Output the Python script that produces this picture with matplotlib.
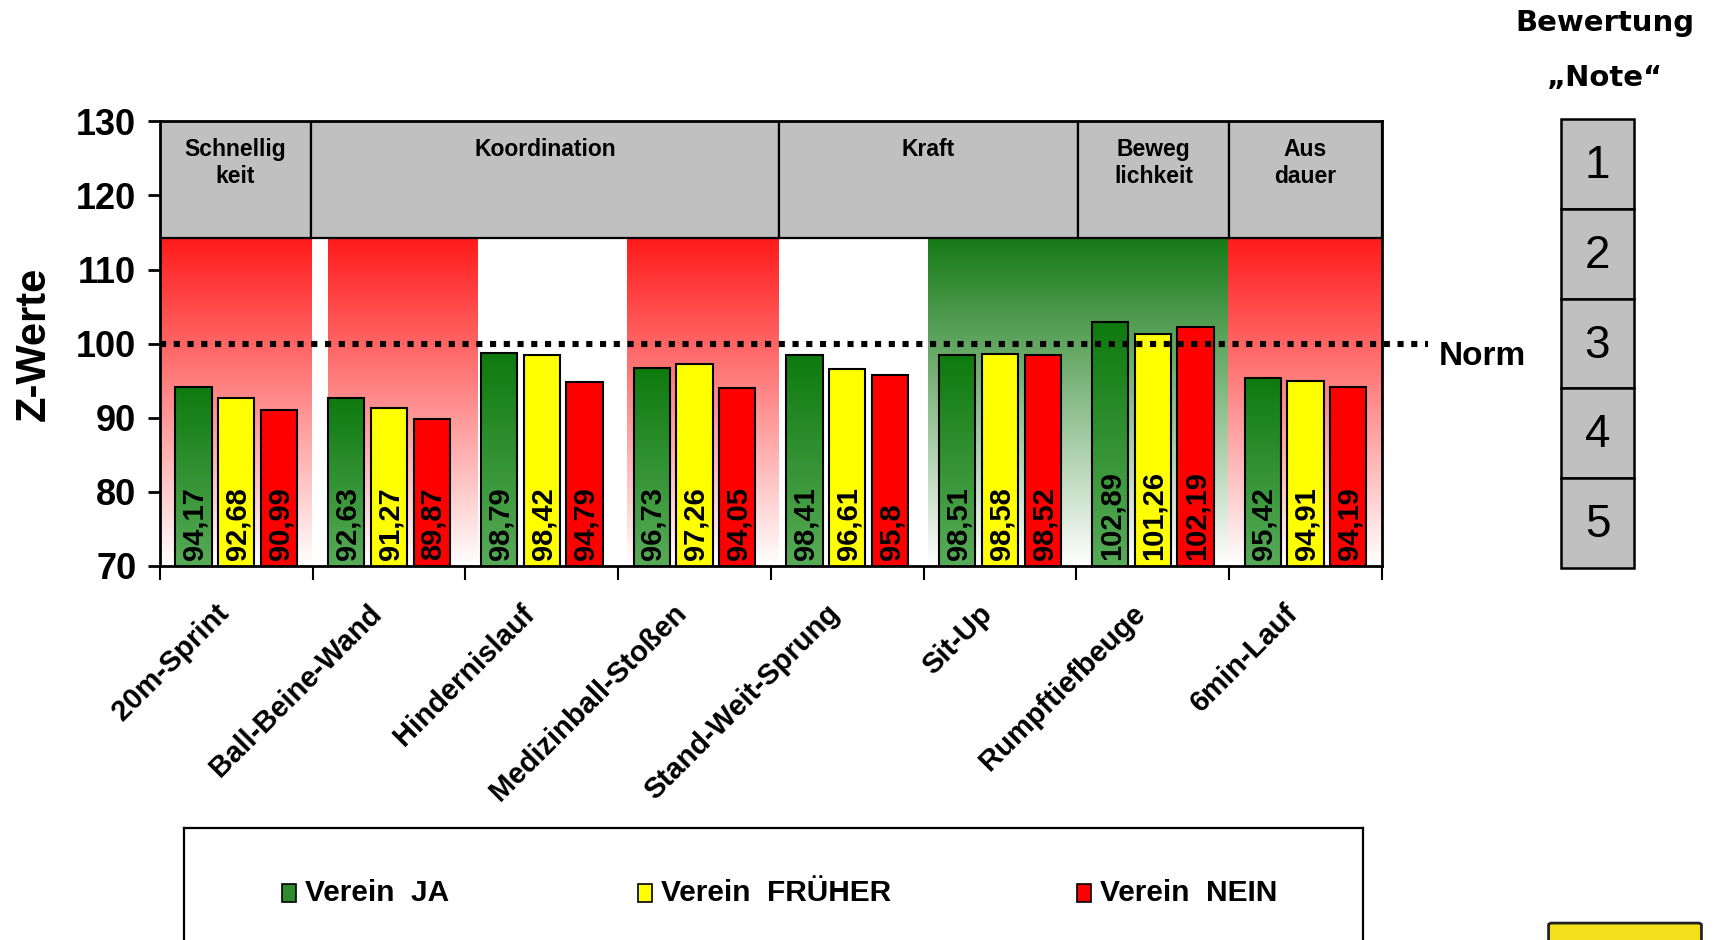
import numpy as np
import matplotlib
matplotlib.use("Agg")
import matplotlib.pyplot as plt
from matplotlib.patches import Rectangle, FancyBboxPatch
from matplotlib.colors import to_rgb
from matplotlib.transforms import ScaledTranslation

plt.rcParams.update({
    "font.family": ["Liberation Sans", "DejaVu Sans"],
    "font.weight": "bold",
})

# ── data ─────────────────────────────────────────────────────────
tests = ["20m-Sprint", "Ball-Beine-Wand", "Hindernislauf", "Medizinball-Stoßen",
         "Stand-Weit-Sprung", "Sit-Up", "Rumpftiefbeuge", "6min-Lauf"]
verein_ja = [94.17, 92.63, 98.79, 96.73, 98.41, 98.51, 102.89, 95.42]
verein_frueher = [92.68, 91.27, 98.42, 97.26, 96.61, 98.58, 101.26, 94.91]
verein_nein = [90.99, 89.87, 94.79, 94.05, 95.8, 98.52, 102.19, 94.19]
series_names = ["Verein  JA", "Verein  FRÜHER", "Verein  NEIN"]

# motor abilities: (label, first test index, last test index)
abilities = [("Schnellig\nkeit", 0, 0), ("Koordination", 1, 3), ("Kraft", 4, 5),
             ("Beweg\nlichkeit", 6, 6), ("Aus\ndauer", 7, 7)]
# background rating per test: r = red, w = white, g = green
band_rating = ["r", "r", "w", "r", "w", "g", "g", "r"]
norm_value = 100
grades = ["1", "2", "3", "4", "5"]

# ── figure ───────────────────────────────────────────────────────
fig = plt.figure(figsize=(17.16, 9.40), dpi=100)
ax = fig.add_axes([0.0932, 0.398, 0.7121, 0.4729])
ymin, ymax, head_y = 70, 130, 114.3
ax.set_xlim(-0.5, 7.5)
ax.set_ylim(ymin, ymax)

x = np.arange(len(tests))


def gradient(ax, x0, x1, y0, y1, top, bottom, z):
    # vertical colour ramp: `top` at y1, `bottom` at y0
    t = np.linspace(0, 1, 256)[:, None]
    c0, c1 = np.array(to_rgb(top)), np.array(to_rgb(bottom))
    img = (c0 * (1 - t) + c1 * t)[:, None, :]
    ax.imshow(img, extent=(x0, x1, y0, y1), origin="upper", aspect="auto",
              zorder=z, interpolation="bilinear")


# background bands (slightly offset like in the original slide)
shift_l = [0.0, 0.1, 0.07, 0.06, 0.03, 0.03, 0.0, -0.01]
shift_r = [-0.01, 0.08, 0.06, 0.05, 0.03, 0.0, -0.01, 0.0]
for i, r in enumerate(band_rating):
    if r == "w":
        continue
    top = "#ff1a1a" if r == "r" else "#157a15"
    gradient(ax, i - 0.5 + shift_l[i], i + 0.5 + shift_r[i], ymin, head_y,
             top, "#ffffff", 0)

# header boxes (edges nudged like the slide)
head_shift = [0.0, -0.01, 0.05, 0.01, 0.0, 0.0]
for k, (label, a, b) in enumerate(abilities):
    x0 = a - 0.5 + head_shift[k]
    x1 = b + 0.5 + head_shift[k + 1]
    ax.add_patch(Rectangle((x0, head_y), x1 - x0, ymax - head_y,
                           facecolor="#c0c0c0", edgecolor="black", lw=1.6, zorder=1))
    ax.text((x0 + x1) / 2, 127.7, label, ha="center", va="top", fontsize=16.5,
            fontweight="bold", linespacing=1.2, zorder=2)

# bars
w, step = 0.237, 0.28
bars_ja = ax.bar(x - step, verein_ja, w, color="none",
                 edgecolor="black", lw=1.5, zorder=4)
bars_fr = ax.bar(x, verein_frueher, w, color="#ffff00", edgecolor="black", lw=1.5, zorder=4)
bars_ne = ax.bar(x + step, verein_nein, w, color="#ff0000", edgecolor="black", lw=1.5, zorder=4)
for p in bars_ja:
    gradient(ax, p.get_x(), p.get_x() + p.get_width(), ymin, p.get_height(),
             "#0e7a0e", "#58ab58", 3)
ax.set_xlim(-0.5, 7.5)
ax.set_ylim(ymin, ymax)

for bars, vals in [(bars_ja, verein_ja), (bars_fr, verein_frueher), (bars_ne, verein_nein)]:
    for p, v in zip(bars, vals):
        ax.text(p.get_x() + p.get_width() / 2 + 0.008, ymin + 0.8,
                f"{v:g}".replace(".", ","), rotation=90, ha="center", va="bottom",
                fontsize=21, fontweight="bold", color="black", zorder=5)

# norm line
ax.plot([-0.5, 7.8], [norm_value, norm_value], color="black", lw=4.4,
        linestyle=(0, (1, 1.25)), clip_on=False, zorder=6)
ax.text(7.87, norm_value - 1.8, "Norm", ha="left", va="center", fontsize=24,
        fontweight="bold")

# axes styling
for s in ax.spines.values():
    s.set_linewidth(2)
    s.set_zorder(7)
ax.set_yticks(range(70, 131, 10))
ax.tick_params(axis="y", length=9, width=2, labelsize=26, pad=8)
ax.set_xticks(np.arange(-0.5, 8, 1))
ax.set_xticklabels([])
ax.tick_params(axis="x", which="major", length=10, width=1.5)
ax.set_xticks(x, minor=True)
ax.set_xticklabels(tests, minor=True, rotation=45, ha="right",
                   rotation_mode="anchor", fontsize=21, fontweight="bold")
ax.tick_params(axis="x", which="minor", length=0, pad=24)
shift = ScaledTranslation(-0.22, 0, fig.dpi_scale_trans)
for lab in ax.get_xticklabels(minor=True):
    lab.set_transform(lab.get_transform() + shift)
for lab in ax.get_yticklabels():
    lab.set_fontweight("bold")
ax.set_ylabel("Z-Werte", fontsize=30, fontweight="bold", labelpad=16)

# legend box
leg_ax = fig.add_axes([184 / 1716, -0.05, (1363 - 184) / 1716, (940 - 828) / 940 + 0.05])
leg_ax.set_xlim(0, 1)
leg_ax.set_ylim(0, 1)
leg_ax.set_xticks([])
leg_ax.set_yticks([])
for s in leg_ax.spines.values():
    s.set_linewidth(1.6)
leg_colors = ["#2e8b2e", "#ffff00", "#ff0000"]
leg_x = [0.083, 0.385, 0.757]
for name, c, lx in zip(series_names, leg_colors, leg_x):
    leg_ax.add_patch(Rectangle((lx, 0.535), 0.012, 0.11, facecolor=c,
                               edgecolor="black", lw=1.2))
    leg_ax.text(lx + 0.02, 0.59, name, ha="left", va="center", fontsize=21.5,
                fontweight="bold")

# grade scale on the right
fig.text(1605 / 1716, 1 - 23 / 940, "Bewertung", ha="center", va="center",
         fontsize=21, fontweight="bold", family="DejaVu Sans")
fig.text(1605 / 1716, 1 - 78 / 940, "\u201eNote\u201c", ha="center", va="center",
         fontsize=21, fontweight="bold", family="DejaVu Sans")
box_l, box_w, box_top, box_h = 1561, 73, 119, 89.8
for k, g in enumerate(grades):
    y_top = box_top + k * box_h
    fig.add_artist(Rectangle((box_l / 1716, 1 - (y_top + box_h) / 940),
                             box_w / 1716, box_h / 940, transform=fig.transFigure,
                             facecolor="#c0c0c0", edgecolor="black", lw=1.8))
    fig.text((box_l + box_w / 2) / 1716, 1 - (y_top + box_h / 2 + 2) / 940, g,
             ha="center", va="center", fontsize=33, fontweight="normal")

# coat of arms hint (cut off at the bottom edge)
fig.add_artist(FancyBboxPatch((1552 / 1716, -0.01), 146 / 1716, 0.026,
                              boxstyle="round,pad=0.002", transform=fig.transFigure,
                              facecolor="#f4e01a", edgecolor="#222222", lw=2))

fig.savefig("out.png", dpi=100)
